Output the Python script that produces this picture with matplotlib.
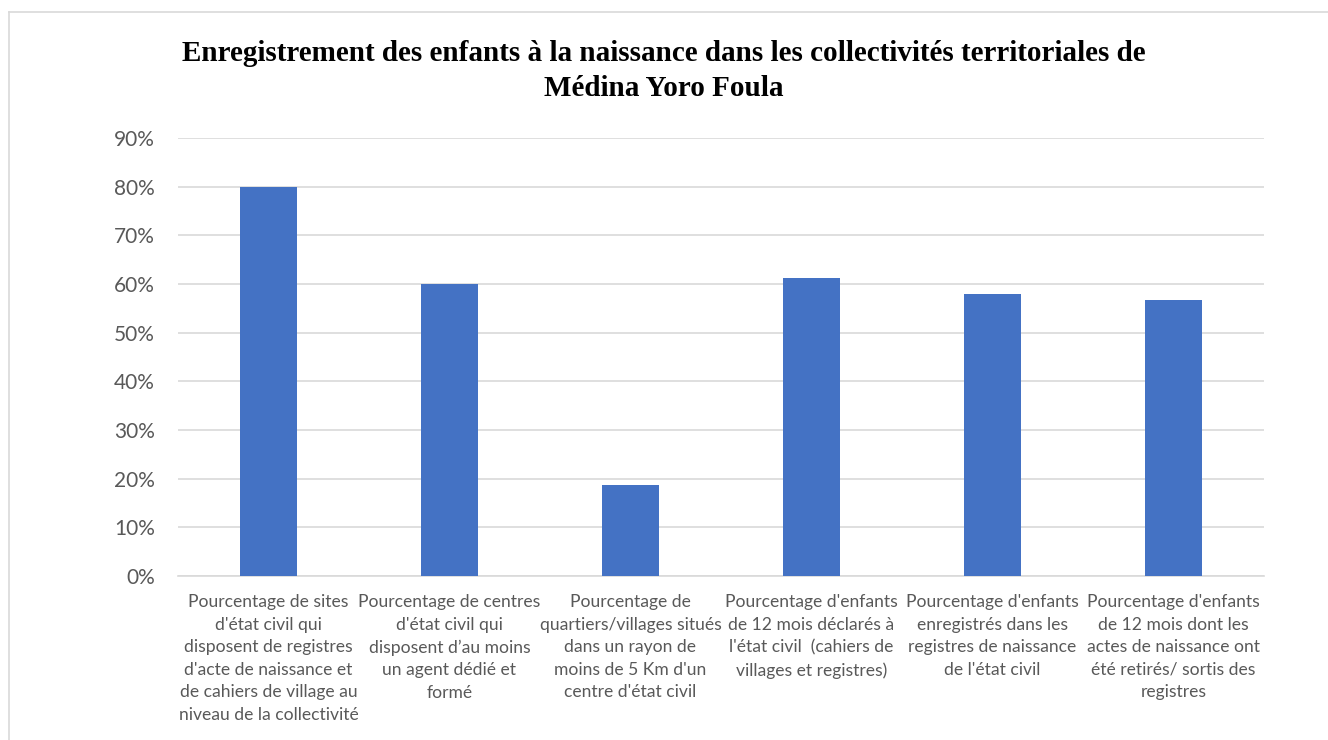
import matplotlib.pyplot as plt
from matplotlib.lines import Line2D
from matplotlib.ticker import FuncFormatter

# Indicateurs (libellés déjà coupés comme dans le graphique Excel)
categories = [
    "Pourcentage de sites\nd'état civil qui\ndisposent de registres\nd'acte de naissance et\nde cahiers de village au\nniveau de la collectivité",
    "Pourcentage de centres\nd'état civil qui\ndisposent d\u2019au moins\nun agent dédié et\nformé",
    "Pourcentage de\nquartiers/villages situés\ndans un rayon de\nmoins de 5 Km d'un\ncentre d'état civil",
    "Pourcentage d'enfants\nde 12 mois déclarés à\nl'état civil  (cahiers de\nvillages et registres)",
    "Pourcentage d'enfants\nenregistrés dans les\nregistres de naissance\nde l'état civil",
    "Pourcentage d'enfants\nde 12 mois dont les\nactes de naissance ont\nété retirés/ sortis des\nregistres",
]
values = [0.80, 0.60, 0.187, 0.612, 0.58, 0.568]
yticks = [0.0, 0.1, 0.2, 0.3, 0.4, 0.5, 0.6, 0.7, 0.8, 0.9]

title = ("Enregistrement des enfants à la naissance dans les collectivités territoriales de\n"
         "Médina Yoro Foula")

bar_color = "#4472C4"
text_color = "#595959"
grid_color = "#D9D9D9"

fig = plt.figure(figsize=(13.28, 7.4), dpi=100)
ax = fig.add_axes([178 / 1328, 164 / 740, 1086 / 1328, 438 / 740])

x = list(range(len(categories)))
ax.bar(x, values, width=0.31, color=bar_color, zorder=3)

ax.set_xlim(-0.5, len(categories) - 0.5)
ax.set_ylim(0, 0.9)
ax.set_yticks(yticks)
ax.yaxis.set_major_formatter(FuncFormatter(lambda v, p: f"{v * 100:.0f}%"))
ax.set_xticks(x)
ax.set_xticklabels(categories, fontsize=12.6, color=text_color,
                   family="Lato", linespacing=1.5)
ax.tick_params(axis="y", labelsize=15, labelcolor=text_color, length=0, pad=16.5)
ax.tick_params(axis="x", length=0, pad=13)
for lab in ax.get_yticklabels():
    lab.set_family("Lato")

ax.grid(axis="y", color=grid_color, linewidth=1.2, zorder=0)
for side in ["top", "right", "left"]:
    ax.spines[side].set_visible(False)
ax.spines["bottom"].set_color(grid_color)
ax.spines["bottom"].set_linewidth(1.2)

fig.text(0.5, 0.946, title, ha="center", va="top", fontsize=21,
         fontweight="bold", family="Liberation Serif", linespacing=1.38)

# cadre gris clair autour du graphique
fig.add_artist(Line2D([9 / 1328, 9 / 1328], [0, 1 - 12 / 740],
                      transform=fig.transFigure, color=grid_color, lw=1.2))
fig.add_artist(Line2D([9 / 1328, 1], [1 - 12 / 740, 1 - 12 / 740],
                      transform=fig.transFigure, color=grid_color, lw=1.2))

fig.savefig("out.png", dpi=100)
